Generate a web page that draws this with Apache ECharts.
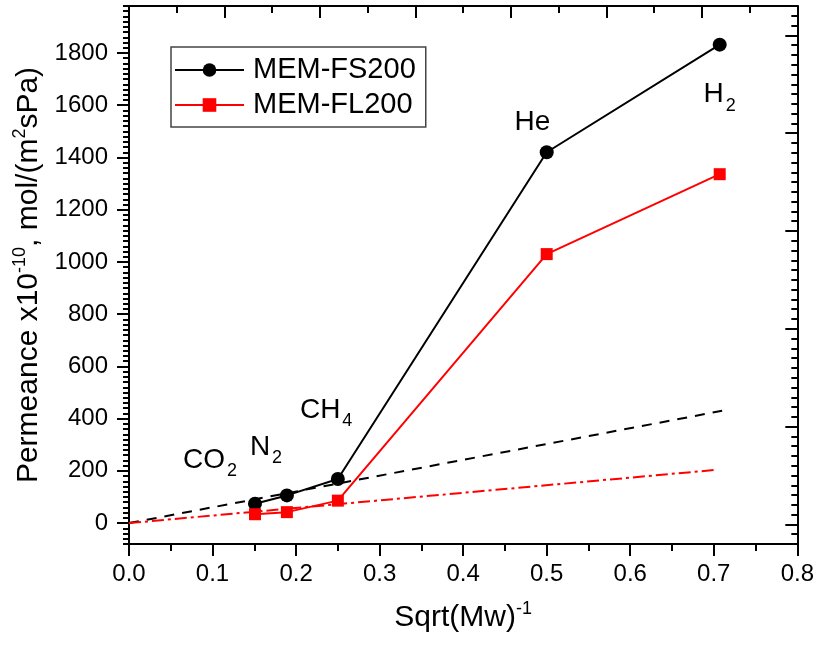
<!DOCTYPE html>
<html>
<head>
<meta charset="utf-8">
<script src="https://cdn.jsdelivr.net/npm/echarts@6/dist/echarts.min.js"></script>
<style>html,body{margin:0;padding:0;background:#fff}#c{width:817px;height:645px}</style>
</head>
<body>
<div id="c"></div>
<script>
// ---- data ----
const xSqrtMw = [0.1508, 0.1890, 0.2500, 0.5000, 0.7071];   // CO2, N2, CH4, He, H2
const fs200 = [74, 106, 169, 1420, 1832];
const fl200 = [34, 42, 86, 1030, 1336];
const knudsenFSx = [0, 0.71];
const knudsenFSy = [0, 430];
const knudsenFLx = [0, 0.703];
const knudsenFLy = [0, 204];
const gasLabelX = [0.097, 0.164, 0.236, 0.483, 0.707];
const gasLabelY = [242, 292, 433, 1535, 1641];
const gasLabelMain = ['CO', 'N', 'CH', 'He', 'H'];
const gasLabelSub = ['2', '2', '4', '', '2'];
const yTicks = [0, 200, 400, 600, 800, 1000, 1200, 1400, 1600, 1800];
const rightTicks = [0, 1, 2, 3, 4, 5];
const seriesNames = ['MEM-FS200', 'MEM-FL200'];

const FONT = 'Liberation Sans, Arial, sans-serif';
const yMin = -80, yMax = 1980;
const rMin = -0.2, rMax = 5.3;

const pair = (xs, ys) => xs.map((x, i) => [x, ys[i]]);

const tickStyle = { color: '#000', width: 2 };
const noSplit = { show: false };
const ghostLine = { show: true, onZero: false, lineStyle: { color: 'rgba(0,0,0,0)', width: 0 } };

const chart = echarts.init(document.getElementById('c'), null, { renderer: 'canvas' });
chart.setOption({
  animation: false,
  backgroundColor: '#fff',
  textStyle: { fontFamily: FONT, color: '#000' },
  grid: { left: 129, top: 6, width: 669, height: 538, containLabel: false },
  legend: {
    data: seriesNames,
    orient: 'vertical',
    left: 171, top: 47,
    padding: [8, 10, 7, 3],
    itemWidth: 69, itemHeight: 17, itemGap: 5,
    borderColor: '#444', borderWidth: 1.5,
    textStyle: { fontSize: 29, fontFamily: FONT, color: '#000', lineHeight: 30, padding: [0, 0, 0, 4] },
  },
  xAxis: [
    {
      type: 'value', position: 'bottom', min: 0, max: 0.8, interval: 0.1,
      name: '{a|Sqrt(Mw)}{s|-1}', nameLocation: 'middle', nameGap: 56,
      nameTextStyle: { rich: {
        a: { fontSize: 30, fontFamily: FONT, color: '#000', lineHeight: 36 },
        s: { fontSize: 18, fontFamily: FONT, color: '#000', verticalAlign: 'top', lineHeight: 36 }
      } },
      axisLine: { show: true, onZero: false, lineStyle: { color: '#000', width: 2 } },
      axisTick: { show: true, inside: false, length: 12, lineStyle: tickStyle },
      minorTick: { show: true, splitNumber: 2, length: 7, lineStyle: tickStyle },
      axisLabel: { fontSize: 24, fontFamily: FONT, color: '#000', margin: 18, formatter: v => v.toFixed(1) },
      splitLine: noSplit
    },
    {
      type: 'value', position: 'top', min: 0, max: 7, interval: 1,
      axisLine: { show: true, onZero: false, lineStyle: { color: '#000', width: 2 } },
      axisTick: { show: true, inside: true, length: 12, lineStyle: tickStyle },
      minorTick: { show: true, splitNumber: 2, length: 7, lineStyle: tickStyle },
      axisLabel: { show: false },
      splitLine: noSplit
    }
  ],
  yAxis: [
    {
      type: 'value', position: 'left', min: yMin, max: yMax, interval: 200,
      name: '{a|Permeance x10}{s|-10}{a|, mol/(m}{s|2}{a|sPa)}',
      nameLocation: 'middle', nameRotate: 90, nameGap: 80,
      nameTextStyle: { rich: {
        a: { fontSize: 30, fontFamily: FONT, color: '#000', lineHeight: 36 },
        s: { fontSize: 18, fontFamily: FONT, color: '#000', verticalAlign: 'top', lineHeight: 36 }
      } },
      axisLine: { show: true, onZero: false, lineStyle: { color: '#000', width: 2 } },
      axisTick: { show: true, inside: false, length: 12, lineStyle: tickStyle, customValues: yTicks },
      axisLabel: { fontSize: 24, fontFamily: FONT, color: '#000', margin: 21, customValues: yTicks, formatter: v => String(v) },
      splitLine: noSplit
    },
    {
      type: 'value', position: 'right', min: rMin, max: rMax, interval: 1,
      axisLine: { show: true, onZero: false, lineStyle: { color: '#000', width: 2 } },
      axisTick: { show: true, inside: true, length: 12, lineStyle: tickStyle, customValues: rightTicks },
      axisLabel: { show: false },
      splitLine: noSplit
    },
    {
      // left minor ticks (every 20, outward)
      type: 'value', position: 'left', min: yMin, max: yMax, interval: 20,
      axisLine: ghostLine,
      axisTick: { show: true, inside: false, length: 6, lineStyle: tickStyle },
      axisLabel: { show: false },
      splitLine: noSplit
    },
    {
      // right minor ticks (every 0.1, inward)
      type: 'value', position: 'right', min: rMin, max: rMax, interval: 0.1,
      axisLine: ghostLine,
      axisTick: { show: true, inside: true, length: 6, lineStyle: tickStyle },
      axisLabel: { show: false },
      splitLine: noSplit
    }
  ],
  series: [
    {
      name: 'knudsenFS', type: 'line', data: pair(knudsenFSx, knudsenFSy),
      showSymbol: false, symbol: 'none', z: 1, silent: true,
      lineStyle: { color: '#000', width: 2, type: [10, 8] }
    },
    {
      name: 'knudsenFL', type: 'line', data: pair(knudsenFLx, knudsenFLy),
      showSymbol: false, symbol: 'none', z: 1, silent: true,
      lineStyle: { color: '#ff0000', width: 2, type: [12, 4, 3, 4] }
    },
    {
      name: seriesNames[0], type: 'line', data: pair(xSqrtMw, fs200), z: 3,
      symbol: 'circle', symbolSize: 14,
      itemStyle: { color: '#000' },
      lineStyle: { color: '#000', width: 2 }
    },
    {
      name: seriesNames[1], type: 'line', data: pair(xSqrtMw, fl200), z: 3,
      symbol: 'rect', symbolSize: 12,
      itemStyle: { color: '#ff0000' },
      lineStyle: { color: '#ff0000', width: 2 }
    },
    {
      name: 'gasLabels', type: 'scatter', symbolSize: 1, z: 5, silent: true,
      itemStyle: { color: '#fff', opacity: 0 },
      data: gasLabelX.map((x, i) => ({ value: [x, gasLabelY[i]], main: gasLabelMain[i], sub: gasLabelSub[i] })),
      label: {
        show: true, position: 'inside', color: '#000', opacity: 1, textBorderWidth: 0,
        formatter: p => '{a|' + p.data.main + '}' + (p.data.sub ? '{b|' + p.data.sub + '}' : ''),
        rich: {
          a: { fontSize: 28, fontFamily: FONT, color: '#000', lineHeight: 40 },
          b: { fontSize: 18, fontFamily: FONT, color: '#000', verticalAlign: 'bottom', lineHeight: 40, padding: [0, 0, 0, 2] }
        }
      }
    }
  ]
});
</script>
</body>
</html>
